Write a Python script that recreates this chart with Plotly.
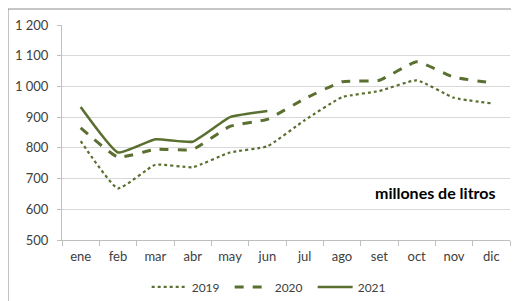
import plotly.graph_objects as go

months = ["ene", "feb", "mar", "abr", "may", "jun", "jul", "ago", "set", "oct", "nov", "dic"]
v2019 = [822, 668, 745, 737, 785, 805, 890, 965, 985, 1020, 963, 945]
v2020 = [865, 770, 795, 795, 870, 893, 960, 1015, 1020, 1080, 1030, 1012]
v2021 = [933, 785, 828, 820, 900, 920]
ytick_vals = [500, 600, 700, 800, 900, 1000, 1100, 1200]
ytick_text = ["500", "600", "700", "800", "900", "1 000", "1 100", "1 200"]

GREEN = "#5b7030"
FONT = "Lato"

fig = go.Figure()
fig.add_trace(go.Scatter(x=months, y=v2019, name="2019", mode="lines",
                         line=dict(color=GREEN, width=2.2, dash="dot", shape="spline", smoothing=0.4)))
fig.add_trace(go.Scatter(x=months, y=v2020, name="2020", mode="lines",
                         line=dict(color=GREEN, width=3, dash="dash", shape="spline", smoothing=0.4)))
fig.add_trace(go.Scatter(x=months[:len(v2021)], y=v2021, name="2021", mode="lines",
                         line=dict(color=GREEN, width=2.6, shape="spline", smoothing=0.4)))

# page body has an 8px margin, so the figure is 8px smaller and offset accordingly
fig.update_layout(
    width=511, height=293,
    margin=dict(l=54, r=9, t=17, b=61, autoexpand=False),
    paper_bgcolor="white", plot_bgcolor="white",
    font=dict(family=FONT, size=12, color="#404040"),
    showlegend=True,
    legend=dict(orientation="h", xref="container", yref="container",
                x=0.515, xanchor="center", y=0.048, yanchor="middle",
                entrywidth=33, itemwidth=35,
                font=dict(size=12, color="#404040"), tracegroupgap=0),
    annotations=[dict(text="<b>millones de litros</b>", x=0.973, y=0.219, xref="paper", yref="paper",
                      xanchor="right", yanchor="middle", showarrow=False,
                      font=dict(size=16, color="#000000", family=FONT))],
    shapes=[
        dict(type="line", xref="paper", yref="paper", x0=-0.1205, x1=1.2, y0=1.0744, y1=1.0744,
             line=dict(color="#8c8c8c", width=1)),
        dict(type="line", xref="paper", yref="paper", x0=-0.1205, x1=-0.1205, y0=1.0744, y1=-0.5,
             line=dict(color="#8c8c8c", width=1)),
    ],
)
fig.update_xaxes(type="category", categoryorder="array", categoryarray=months,
                 showgrid=False, showline=True, linecolor="#bfbfbf", linewidth=1,
                 ticks="outside", ticklen=5, tickcolor="#bfbfbf", tickson="boundaries",
                 range=[-0.5, 11.5], automargin=False, ticklabelstandoff=4,
                 tickfont=dict(size=13, color="#404040"))
fig.update_yaxes(range=[500, 1200], tickvals=ytick_vals, ticktext=ytick_text,
                 showgrid=True, gridcolor="#d9d9d9", gridwidth=1,
                 showline=True, linecolor="#bfbfbf", linewidth=1,
                 ticks="outside", ticklen=4, tickcolor="#bfbfbf", automargin=False,
                 ticklabelstandoff=6,
                 zeroline=False, tickfont=dict(size=13, color="#404040"))

fig.write_html("out.html")
